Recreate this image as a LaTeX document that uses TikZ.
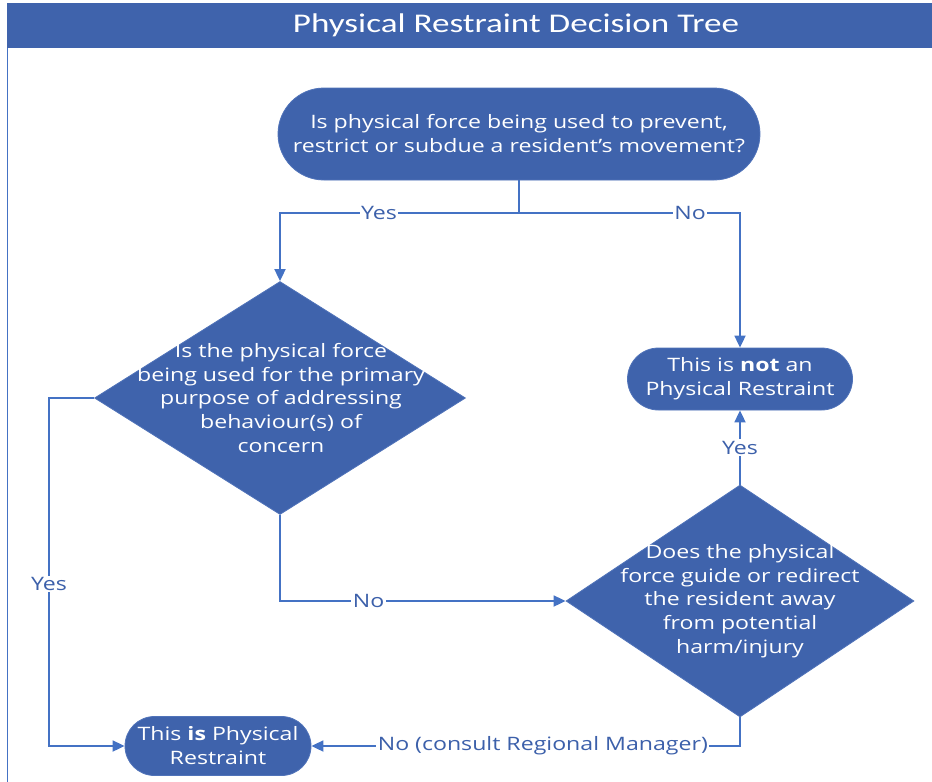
\documentclass[tikz,border=0pt]{standalone}
\usepackage{fontspec}
\setmainfont{Open Sans}[FakeStretch=1.25]
\newfontfamily\titlefont{Carlito}[FakeStretch=1.3]
\usetikzlibrary{shapes.geometric,shapes.misc,arrows.meta}
\definecolor{nodefill}{RGB}{63,99,172}
\definecolor{nodeedge}{RGB}{80,115,185}
\definecolor{linecol}{RGB}{68,114,196}
\definecolor{labcol}{RGB}{60,96,170}
\tikzset{
  term/.style={rounded rectangle, fill=nodefill, draw=nodeedge, line width=0.8pt, text=white, align=center, inner sep=0pt, font=\fontsize{18.5}{24}\selectfont},
  dia/.style={diamond, fill=nodefill, draw=nodeedge, line width=0.8pt, inner sep=0pt},
  dtext/.style={text=white, align=center, inner sep=0pt, font=\fontsize{18.5}{23.7}\selectfont},
  conn/.style={draw=linecol, line width=1.8pt},
  arr/.style={conn, -{Triangle[length=12pt,width=11pt]}},
  lab/.style={fill=white, text=labcol, inner sep=1.5pt, font=\fontsize{18.5}{22}\selectfont},
}
\begin{document}
\begin{tikzpicture}[x=1pt,y=-1pt]
\useasboundingbox (0,0) rectangle (932,782);
% title bar and frame
\fill[nodefill] (7,3) rectangle (932,48);
\draw[linecol, line width=1pt] (7,48) -- (7,782);
\node[text=white, font=\titlefont\fontsize{27}{30}\selectfont] (title) at (516,25) {Physical Restraint Decision Tree};
% nodes
\node[term, minimum width=482pt, minimum height=92pt] (top) at (519,134) {Is physical force being used to prevent,\\restrict or subdue a resident’s movement?};
\node[term, minimum width=225pt, minimum height=62pt] (not) at (740,379) {This is \textbf{not} an\\Physical Restraint};
\node[term, minimum width=186pt, minimum height=59pt] (is) at (218,746) {This \textbf{is} Physical\\Restraint};
\node[dia, minimum width=371pt, minimum height=233pt] (d1) at (280,398) {};
\node[dtext] (d1t) at (281,398) {Is the physical force\\being used for the primary\\purpose of addressing\\behaviour(s) of\\concern};
\node[dia, minimum width=348pt, minimum height=232pt] (d2) at (740,601) {};
\node[dtext] (d2t) at (740,601) {Does the physical\\force guide or redirect\\the resident away\\from potential\\harm/injury};
% coordinates
\coordinate (j) at (519,213);
\coordinate (c1) at (49,398);
\coordinate (c2) at (49,746);
% connectors
\draw[conn] (top.south) -- (j);
\draw[arr] (j) -| node[lab, pos=0.293] (lyes1) {Yes} (d1.north);
\draw[arr] (j) -| node[lab, pos=0.387] (lno1) {No} (not.north);
\draw[arr] (d2.north) -- node[lab, midway] (lyes2) {Yes} (not.south);
\draw[arr] (d1.south) |- node[lab, pos=0.655] (lno2) {No} (d2.west);
\draw[arr] (d1.west) -- (c1) -- node[lab, pos=0.534] (lyes3) {Yes} (c2) -- (is.west);
\draw[arr] (d2.south) |- node[lab, pos=0.73] (lno3) {No (consult Regional Manager)} (is.east);
\end{tikzpicture}
\end{document}
